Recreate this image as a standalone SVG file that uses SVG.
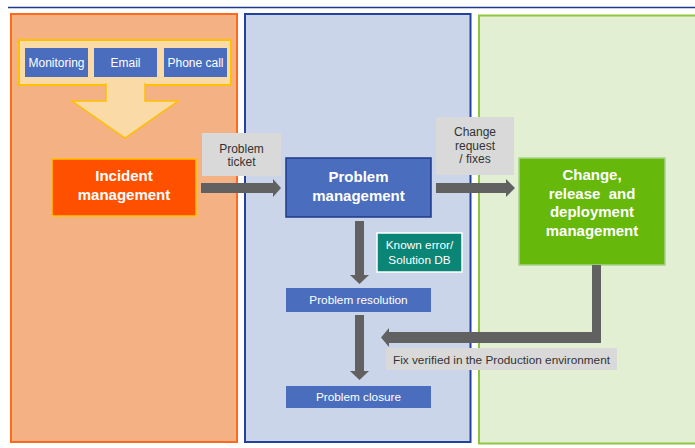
<svg xmlns="http://www.w3.org/2000/svg" width="695" height="448" viewBox="0 0 695 448">
<style>
text{font-family:"Liberation Sans",Arial,sans-serif;text-anchor:middle}
.src{fill:#4A6EBD}
.srct{fill:#fff;font-size:12px}
.lbl{fill:#D9D9D9}
.lblt{fill:#333;font-size:12px}
.bold{fill:#fff;font-size:15px;font-weight:bold}
.step{fill:#4A6EBD}
.stept{fill:#fff;font-size:11.8px}
.arr{fill:#616161}
</style>
<rect width="695" height="448" fill="#fff"/>
<line x1="8" y1="7.5" x2="695" y2="7.5" stroke="#1F3A8A" stroke-width="1.5"/>

<g id="panel-incident">
<rect x="11" y="14" width="226" height="428" fill="#F4B183" stroke="#FF6A1F" stroke-width="2"/>
</g>
<g id="panel-problem">
<rect x="245" y="14" width="225.5" height="428" fill="#CAD5EA" stroke="#2342A0" stroke-width="2"/>
</g>
<g id="panel-change">
<rect x="479" y="15.5" width="230" height="428" fill="#E2EFD3" stroke="#8DC63F" stroke-width="2"/>
</g>

<g id="sources">
<rect x="19" y="40" width="212" height="45" fill="#FADBA8" stroke="#FFC000" stroke-width="2"/>
<polygon points="106,84 145,84 145,101 178,101 125,138 72,101 106,101" fill="#FADBA8" stroke="#FFC000" stroke-width="1.5"/>
<rect x="106.8" y="83" width="37.4" height="3" fill="#FADBA8"/>
<g id="monitoring"><rect class="src" x="25" y="48" width="63" height="29"/><text class="srct" x="56.5" y="67">Monitoring</text></g>
<g id="email"><rect class="src" x="94" y="48" width="63" height="29"/><text class="srct" x="125.5" y="67">Email</text></g>
<g id="phone"><rect class="src" x="164" y="48" width="63" height="29"/><text class="srct" x="195.5" y="67">Phone call</text></g>
</g>

<g id="incident-management">
<rect x="52" y="159" width="144" height="57" fill="#FF5000" stroke="#FFC000" stroke-width="1.5"/>
<text class="bold" x="124" y="181">Incident</text>
<text class="bold" x="124" y="199.5">management</text>
</g>

<g id="problem-management">
<rect x="286" y="158" width="145" height="59" fill="#4A6EBD" stroke="#1F3A8A" stroke-width="1.5"/>
<text class="bold" x="358.5" y="182">Problem</text>
<text class="bold" x="358.5" y="200.5">management</text>
</g>

<g id="change-management">
<rect x="519" y="158" width="146" height="107" fill="#66B80A" stroke="#A9D18E" stroke-width="1.5"/>
<text class="bold" x="592" y="180">Change,</text>
<text class="bold" x="592" y="198.5" xml:space="preserve">release  and</text>
<text class="bold" x="592" y="217">deployment</text>
<text class="bold" x="592" y="235.5">management</text>
</g>

<g id="known-error">
<rect x="377" y="233" width="85" height="39" fill="#0A8576" stroke="#fff" stroke-width="1.5"/>
<text class="stept" x="419.5" y="249">Known error/</text>
<text class="stept" x="419.5" y="263.5">Solution DB</text>
</g>

<g id="problem-resolution">
<rect class="step" x="286" y="288" width="145" height="24"/>
<text class="stept" x="358.5" y="304">Problem resolution</text>
</g>

<g id="problem-closure">
<rect class="step" x="286" y="386" width="145" height="22"/>
<text class="stept" x="358.5" y="401">Problem closure</text>
</g>

<g id="connectors">
<g id="problem-ticket">
<rect class="lbl" x="202" y="133" width="79" height="43"/>
<text class="lblt" x="241.5" y="152.5">Problem</text>
<text class="lblt" x="241.5" y="166">ticket</text>
<polygon class="arr" points="201,183 273,183 273,179 281,188 273,197 273,193 201,193"/>
</g>
<g id="change-request">
<rect class="lbl" x="436" y="117" width="78" height="58"/>
<text class="lblt" x="475" y="135.5">Change</text>
<text class="lblt" x="475" y="149.5">request</text>
<text class="lblt" x="475" y="163">/ fixes</text>
<polygon class="arr" points="436,183 506,183 506,179 515,188 506,197 506,193 436,193"/>
</g>
<polygon class="arr" points="355,221 364,221 364,275 369,275 359.5,284 350,275 355,275"/>
<polygon class="arr" points="355,315 364,315 364,371 369,371 359.5,380 350,371 355,371"/>
<g id="fix-verified">
<polygon class="arr" points="592,265 601,265 601,343 389,343 389,347 381,337.5 389,328 389,332 592,332"/>
<rect class="lbl" x="386" y="348" width="231" height="22"/>
<text class="lblt" x="501.5" y="363.5" style="font-size:11.8px">Fix verified in the Production environment</text>
</g>
</g>
</svg>
